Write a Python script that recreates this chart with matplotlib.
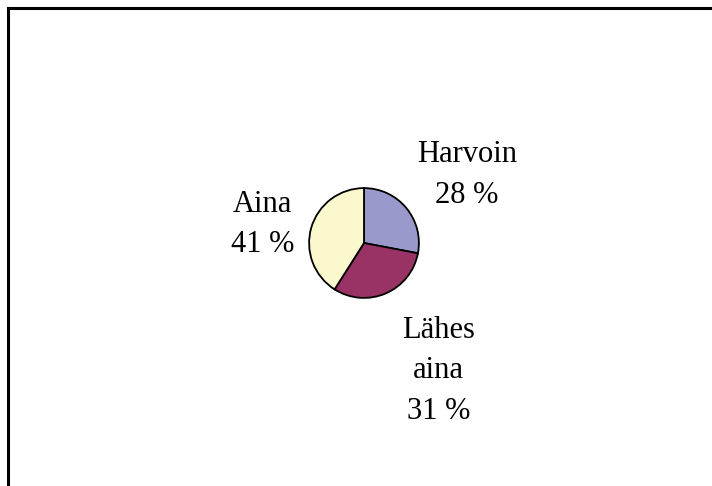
import matplotlib
matplotlib.use('Agg')
from matplotlib import pyplot as plt
from matplotlib.lines import Line2D

luokat = ['Harvoin', 'Lähes\naina', 'Aina']
osuudet = [28, 31, 41]
varit = ['#9999CC', '#993366', '#FCF8CE']

# label positions relative to pie centre, in radii
sijainnit = [(1.87, 1.24), (1.36, -2.33), (-1.85, 0.34)]

plt.rcParams['font.family'] = ['Liberation Serif', 'DejaVu Serif']

fig = plt.figure(figsize=(7.12, 4.86), dpi=100)

# frame: top and left edge only visible
fig.add_artist(Line2D([8 / 712, 8 / 712], [0, 1 - 8 / 486], transform=fig.transFigure,
                      color='black', linewidth=2.2, solid_capstyle='projecting'))
fig.add_artist(Line2D([8 / 712, 1], [1 - 8 / 486, 1 - 8 / 486], transform=fig.transFigure,
                      color='black', linewidth=2.2, solid_capstyle='projecting'))

cx, cy, r = 364, 243, 56
ax = fig.add_axes([(cx - r) / 712, 1 - (cy + r) / 486, 2 * r / 712, 2 * r / 486])
ax.pie(osuudet, colors=varit, startangle=90, counterclock=False, radius=1,
       wedgeprops={'edgecolor': 'black', 'linewidth': 1.3})
ax.set_xlim(-1.02, 1.02)
ax.set_ylim(-1.02, 1.02)
ax.set_aspect('equal')
ax.axis('off')

for nimi, arvo, (x, y) in zip(luokat, osuudet, sijainnit):
    ax.text(x, y, f'{nimi}\n{arvo} %', ha='center', va='center', fontsize=22,
            linespacing=1.52, clip_on=False)

fig.savefig('out.png', dpi=100)
